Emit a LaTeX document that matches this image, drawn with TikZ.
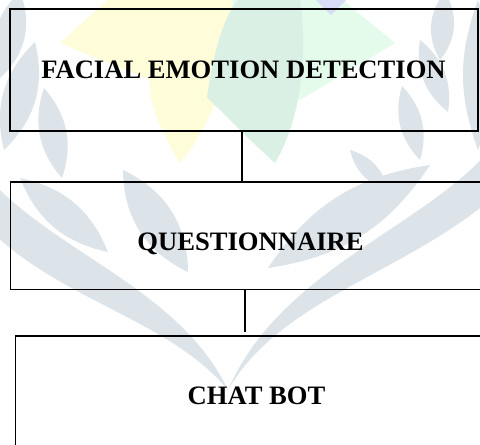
\documentclass[tikz,border=0pt]{standalone}
\usepackage{fontspec}
\setmainfont{Liberation Serif}
\begin{document}
\begin{tikzpicture}[x=1pt,y=-1pt,
  box/.style={draw=black,line width=1.6pt,rectangle,inner sep=0pt,outer sep=0pt},
  label/.style={font=\bfseries\fontsize{26.6}{32}\selectfont,inner sep=0pt,anchor=base},
  link/.style={draw=black,line width=1.6pt}]
\definecolor{wreath}{RGB}{221,228,233}
\definecolor{wmyellow}{RGB}{255,252,218}
\definecolor{wmgreenlt}{RGB}{228,251,236}
\definecolor{wmgreen}{RGB}{218,240,228}
\definecolor{wmblue}{RGB}{216,220,246}
\useasboundingbox (0,0) rectangle (480,445);
\clip (0,0) rectangle (480,445);
\fill[white] (0,0) rectangle (480,445);

% faint laurel wreath in the background
\newcommand{\lensleaf}[3]{\fill[wreath] (#1) to[bend left=#3] (#2) to[bend left=#3] (#1);}
\begin{scope}
  % stems meeting in a V at the bottom
  \fill[wreath] (228,390) .. controls (170,320) and (60,300) .. (-10,230)
     -- (-10,180) .. controls (60,255) and (180,290) .. (228,390) -- cycle;
  \fill[wreath] (228,390) .. controls (280,300) and (400,275) .. (490,200)
     -- (490,150) .. controls (420,230) and (280,270) .. (228,390) -- cycle;
  % left leaves
  \lensleaf{20,-8}{0,78}{35}
  \lensleaf{35,42}{4,150}{30}
  \lensleaf{44,88}{62,178}{30}
  \lensleaf{20,178}{108,252}{28}
  \lensleaf{123,170}{188,272}{32}
  % right leaves
  \lensleaf{445,-8}{440,60}{35}
  \lensleaf{420,40}{448,112}{30}
  \lensleaf{402,86}{420,160}{30}
  \lensleaf{430,165}{268,268}{-24}
  \lensleaf{388,190}{350,150}{30}
  \lensleaf{478,0}{478,150}{20}
\end{scope}

% faint coloured emblem at the top
\fill[wmyellow] (60,43) -- (110,-2) -- (232,-2) .. controls (236,60) and (215,120) .. (180,163)
   .. controls (160,130) and (148,100) .. (150,80) -- cycle;
\fill[wmgreenlt] (233,-2) -- (340,-2) -- (395,43) -- (300,100) -- (230,40) -- cycle;
\fill[wmgreen] (207,97) .. controls (215,40) and (228,10) .. (240,-2) -- (300,-2)
   .. controls (306,40) and (306,110) .. (275,163) .. controls (250,140) .. (207,97) -- cycle;
\fill[wmblue] (314,-2) -- (348,-2) -- (331,15) -- cycle;

% boxes
\node[box,minimum width=468pt,minimum height=121.7pt] (b1) at (244,69.85) {};
\node[box,minimum width=489.5pt,minimum height=107.6pt] (b2) at (255.25,235.5) {};
\node[box,minimum width=484.5pt,minimum height=134pt] (b3) at (257.75,403) {};

% box texts
\node[label] (t1) at (243.5,78) {FACIAL EMOTION DETECTION};
\node[label] (t2) at (250.5,250.5) {QUESTIONNAIRE};
\node[label] (t3) at (256.5,404.3) {CHAT BOT};

% connectors
\coordinate (j1) at (242,130.7);
\coordinate (j2) at (245,289.3);
\coordinate (e2) at (245,332);
\draw[link] (j1) -- (j1 |- b2.north);
\draw[link] (j2) -- (e2);
\end{tikzpicture}
\end{document}
